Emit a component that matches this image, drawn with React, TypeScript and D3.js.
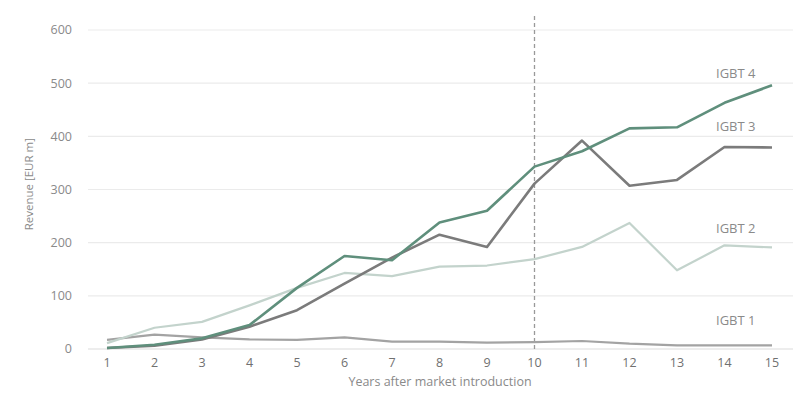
import React from "react";
import * as d3 from "d3";

const years = [1, 2, 3, 4, 5, 6, 7, 8, 9, 10, 11, 12, 13, 14, 15];
const igbt1 = [17, 27, 22, 18, 17, 22, 14, 14, 12, 13, 15, 10, 7, 7, 7];
const igbt2 = [11, 40, 51, 82, 115, 143, 137, 155, 157, 169, 192, 237, 148, 195, 191];
const igbt3 = [2, 6, 18, 42, 73, 123, 172, 215, 192, 311, 392, 307, 318, 380, 379];
const igbt4 = [2, 8, 20, 45, 115, 175, 167, 238, 260, 343, 372, 415, 417, 463, 496];
const yTicks = [0, 100, 200, 300, 400, 500, 600];
const seriesNames = ["IGBT 1", "IGBT 2", "IGBT 3", "IGBT 4"];
const markerYear = 10;

const W = 800;
const H = 393;
const FONT = "'Open Sans', 'DejaVu Sans', sans-serif";

export default function App() {
  const x = d3.scaleLinear().domain([1, 15]).range([107, 772]);
  const y = d3.scaleLinear().domain([0, 600]).range([349, 30]);
  const line = d3
    .line<number>()
    .x((_, i) => x(years[i]))
    .y((d) => y(d));

  const series = [
    { name: seriesNames[0], data: igbt1, color: "#a3a3a3", width: 2.2 },
    { name: seriesNames[1], data: igbt2, color: "#c3d3cc", width: 2.2 },
    { name: seriesNames[2], data: igbt3, color: "#7b7b7b", width: 2.6 },
    { name: seriesNames[3], data: igbt4, color: "#5f8f7c", width: 2.6 },
  ];
  const labelY = [320, 228, 126, 73];

  return (
    <svg
      width={W}
      height={H}
      style={{ position: "absolute", left: 0, top: 0, background: "#fff" }}
      fontFamily={FONT}
    >
      <rect width={W} height={H} fill="#fff" />
      {yTicks.map((t) => (
        <g key={t}>
          <line
            x1={88}
            x2={793}
            y1={y(t)}
            y2={y(t)}
            stroke={t === 0 ? "#dcdcdc" : "#ebebeb"}
            strokeWidth={1.2}
          />
          <text
            x={72}
            y={y(t)}
            dy="0.35em"
            textAnchor="end"
            fontSize={12.5}
            fill="#8a8a8a"
          >
            {t}
          </text>
        </g>
      ))}
      <text
        transform={`translate(33,${y(310)}) rotate(-90)`}
        textAnchor="middle"
        fontSize={11.5}
        fill="#8a8a8a"
      >
        Revenue [EUR m]
      </text>
      {years.map((yr) => (
        <text
          key={yr}
          x={x(yr)}
          y={367}
          textAnchor="middle"
          fontSize={12.5}
          fill="#707070"
        >
          {yr}
        </text>
      ))}
      <text x={440} y={386} textAnchor="middle" fontSize={12.5} fill="#8a8a8a">
        Years after market introduction
      </text>
      <line
        x1={x(markerYear)}
        x2={x(markerYear)}
        y1={16}
        y2={y(0)}
        stroke="#999"
        strokeWidth={1.3}
        strokeDasharray="4,3"
      />
      {series.map((s) => (
        <path
          key={s.name}
          d={line(s.data) || ""}
          fill="none"
          stroke={s.color}
          strokeWidth={s.width}
          strokeLinejoin="round"
        />
      ))}
      {series.map((s, i) => (
        <text
          key={s.name + "l"}
          x={716}
          y={labelY[i]}
          dy="0.35em"
          fontSize={13}
          fill="#8a8a8a"
        >
          {s.name}
        </text>
      ))}
    </svg>
  );
}
